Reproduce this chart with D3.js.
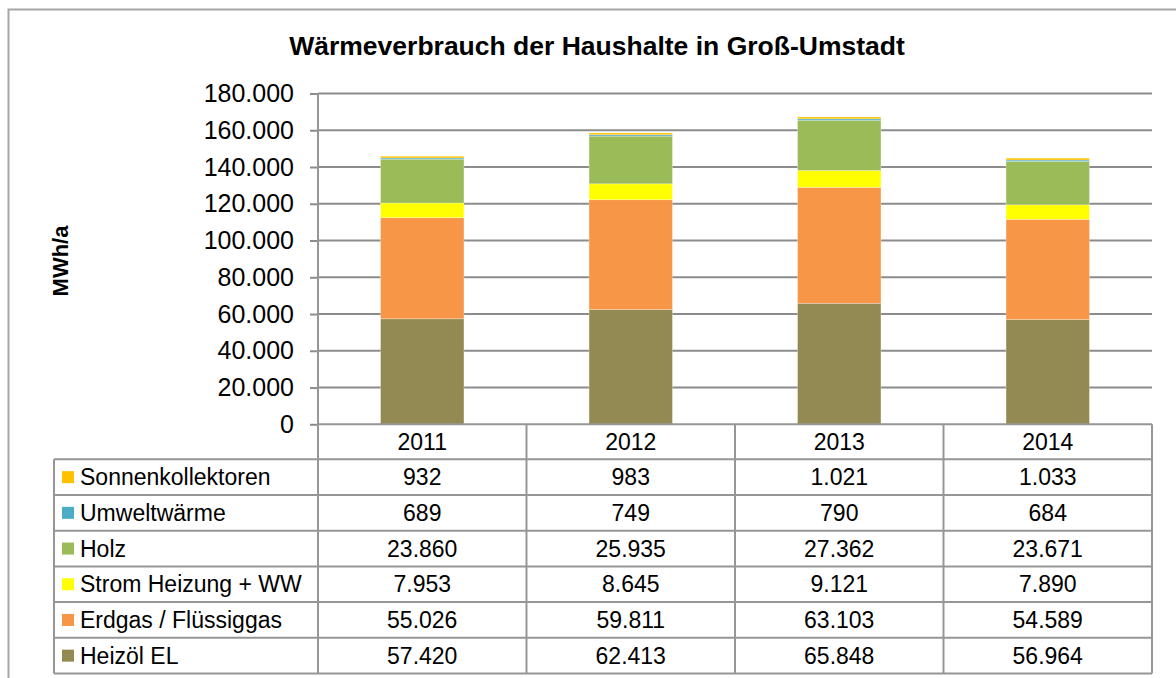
<!DOCTYPE html>
<html lang="de">
<head>
<meta charset="utf-8">
<title>Wärmeverbrauch der Haushalte in Groß-Umstadt</title>
<script src="https://d3js.org/d3.v7.min.js"></script>
<style>
  body { margin: 0; background: #fff; }
  svg text { font-family: "Liberation Sans", Arial, sans-serif; fill: #000; }
</style>
</head>
<body>
<script>
var years = ["2011", "2012", "2013", "2014"];
// stacking order, bottom to top
var seriesNames = ["Heizöl EL", "Erdgas / Flüssiggas", "Strom Heizung + WW", "Holz", "Umweltwärme", "Sonnenkollektoren"];
var seriesColors = ["#938953", "#F79646", "#FFFF00", "#9BBB59", "#4BACC6", "#FFC000"];
var heizoel = [57420, 62413, 65848, 56964];
var erdgas = [55026, 59811, 63103, 54589];
var strom = [7953, 8645, 9121, 7890];
var holz = [23860, 25935, 27362, 23671];
var umwelt = [689, 749, 790, 684];
var sonne = [932, 983, 1021, 1033];
var yTicks = [0, 20000, 40000, 60000, 80000, 100000, 120000, 140000, 160000, 180000];

var seriesValues = [heizoel, erdgas, strom, holz, umwelt, sonne];

var w = 1176, h = 678;
var plotLeft = 318, plotRight = 1152, plotTop = 93.5, plotBottom = 424.3;
var rowH = 35.7, headH = 35;
var tableLeft = 54;
var tableFont = 23;

var de = d3.formatLocale({ decimal: ",", thousands: ".", grouping: [3], currency: ["", " €"] });
var fmt = de.format(",d");

var svg = d3.select("body").append("svg")
    .attr("width", w)
    .attr("height", h);

// outer frame (runs off the right and bottom)
svg.append("path")
    .attr("d", "M8.5," + (h + 2) + "V9.5H" + (w + 2))
    .attr("fill", "none")
    .attr("stroke", "#a6a6a6")
    .attr("stroke-width", 2);

// title
svg.append("text")
    .attr("x", 597)
    .attr("y", 55)
    .attr("text-anchor", "middle")
    .attr("font-size", 26.5)
    .attr("font-weight", "bold")
    .text("Wärmeverbrauch der Haushalte in Groß-Umstadt");

// rows for stack
var table = years.map(function(yr, i) {
    var row = { year: yr };
    seriesNames.forEach(function(s, k) { row[s] = seriesValues[k][i]; });
    return row;
});
var stacked = d3.stack().keys(seriesNames)(table);

var x = d3.scaleBand().domain(years).range([plotLeft, plotRight]).padding(0);
var y = d3.scaleLinear().domain([0, 180000]).range([plotBottom, plotTop]);
var color = d3.scaleOrdinal().domain(seriesNames).range(seriesColors);

// gridlines
svg.append("g")
    .selectAll("line")
    .data(yTicks.filter(function(d) { return d > 0; }))
    .enter().append("line")
    .attr("x1", plotLeft).attr("x2", plotRight)
    .attr("y1", function(d) { return y(d); })
    .attr("y2", function(d) { return y(d); })
    .attr("stroke", "#8c8c8c")
    .attr("stroke-width", 2);

// y axis
var yAxis = svg.append("g")
    .attr("transform", "translate(" + plotLeft + ",0)")
    .call(d3.axisLeft(y).tickValues(yTicks).tickSize(8).tickPadding(16).tickFormat(fmt));
yAxis.select(".domain").remove();
yAxis.selectAll(".tick line").attr("stroke", "#8c8c8c").attr("stroke-width", 2);
yAxis.selectAll(".tick text")
    .attr("font-size", 25)
    .attr("font-family", "Liberation Sans, Arial, sans-serif")
    .attr("fill", "#000");

svg.append("text")
    .attr("transform", "translate(68,261) rotate(-90)")
    .attr("text-anchor", "middle")
    .attr("font-size", 22)
    .attr("font-weight", "bold")
    .text("MWh/a");

// bars
var barW = x.bandwidth() * 0.4;
svg.append("g")
    .selectAll("g")
    .data(stacked)
    .enter().append("g")
    .attr("fill", function(d) { return color(d.key); })
    .selectAll("rect")
    .data(function(d) { return d; })
    .enter().append("rect")
    .attr("x", function(d) { return x(d.data.year) + (x.bandwidth() - barW) / 2; })
    .attr("width", barW)
    .attr("y", function(d) { return y(d[1]); })
    .attr("height", function(d) { return y(d[0]) - y(d[1]); })
    .attr("stroke", "rgba(255,255,255,0.35)")
    .attr("stroke-width", 0.8);

// data table
var tg = svg.append("g");
var tableTop = plotBottom + headH;
var rows = seriesNames.slice().reverse();
var tableBottom = tableTop + rows.length * rowH;
var lineColor = "#969696";

// year header
tg.selectAll("text.year")
    .data(years)
    .enter().append("text")
    .attr("class", "year")
    .attr("x", function(d) { return x(d) + x.bandwidth() / 2; })
    .attr("y", plotBottom + headH / 2 + 8)
    .attr("text-anchor", "middle")
    .attr("font-size", tableFont)
    .text(function(d) { return d; });

// horizontal lines
var hLines = [plotBottom].concat(d3.range(rows.length + 1).map(function(i) { return tableTop + i * rowH; }));
tg.selectAll("line.h")
    .data(hLines)
    .enter().append("line")
    .attr("x1", function(d, i) { return i === 0 ? plotLeft : tableLeft; })
    .attr("x2", plotRight)
    .attr("y1", function(d) { return d; })
    .attr("y2", function(d) { return d; })
    .attr("stroke", lineColor)
    .attr("stroke-width", 2);

// vertical lines
var vLines = [plotLeft].concat(years.map(function(d) { return x(d) + x.bandwidth(); }));
tg.selectAll("line.v")
    .data(vLines)
    .enter().append("line")
    .attr("x1", function(d) { return d; })
    .attr("x2", function(d) { return d; })
    .attr("y1", function(d, i) { return i === 0 ? plotTop : plotBottom; })
    .attr("y2", tableBottom)
    .attr("stroke", lineColor)
    .attr("stroke-width", 2);
tg.append("line")
    .attr("x1", tableLeft).attr("x2", tableLeft)
    .attr("y1", tableTop).attr("y2", tableBottom)
    .attr("stroke", lineColor)
    .attr("stroke-width", 2);

var rowG = tg.selectAll("g.row")
    .data(rows)
    .enter().append("g")
    .attr("transform", function(d, i) { return "translate(0," + (tableTop + i * rowH) + ")"; });

rowG.append("rect")
    .attr("x", 62)
    .attr("y", rowH / 2 - 6)
    .attr("width", 12)
    .attr("height", 12)
    .attr("fill", function(d) { return color(d); });

rowG.append("text")
    .attr("x", 80)
    .attr("y", rowH / 2 + 8)
    .attr("font-size", tableFont)
    .text(function(d) { return d; });

rowG.selectAll("text.val")
    .data(function(d) {
        var k = seriesNames.indexOf(d);
        return years.map(function(yr, i) { return { year: yr, v: seriesValues[k][i] }; });
    })
    .enter().append("text")
    .attr("class", "val")
    .attr("x", function(d) { return x(d.year) + x.bandwidth() / 2; })
    .attr("y", rowH / 2 + 8)
    .attr("text-anchor", "middle")
    .attr("font-size", tableFont)
    .text(function(d) { return fmt(d.v); });
</script>
</body>
</html>
